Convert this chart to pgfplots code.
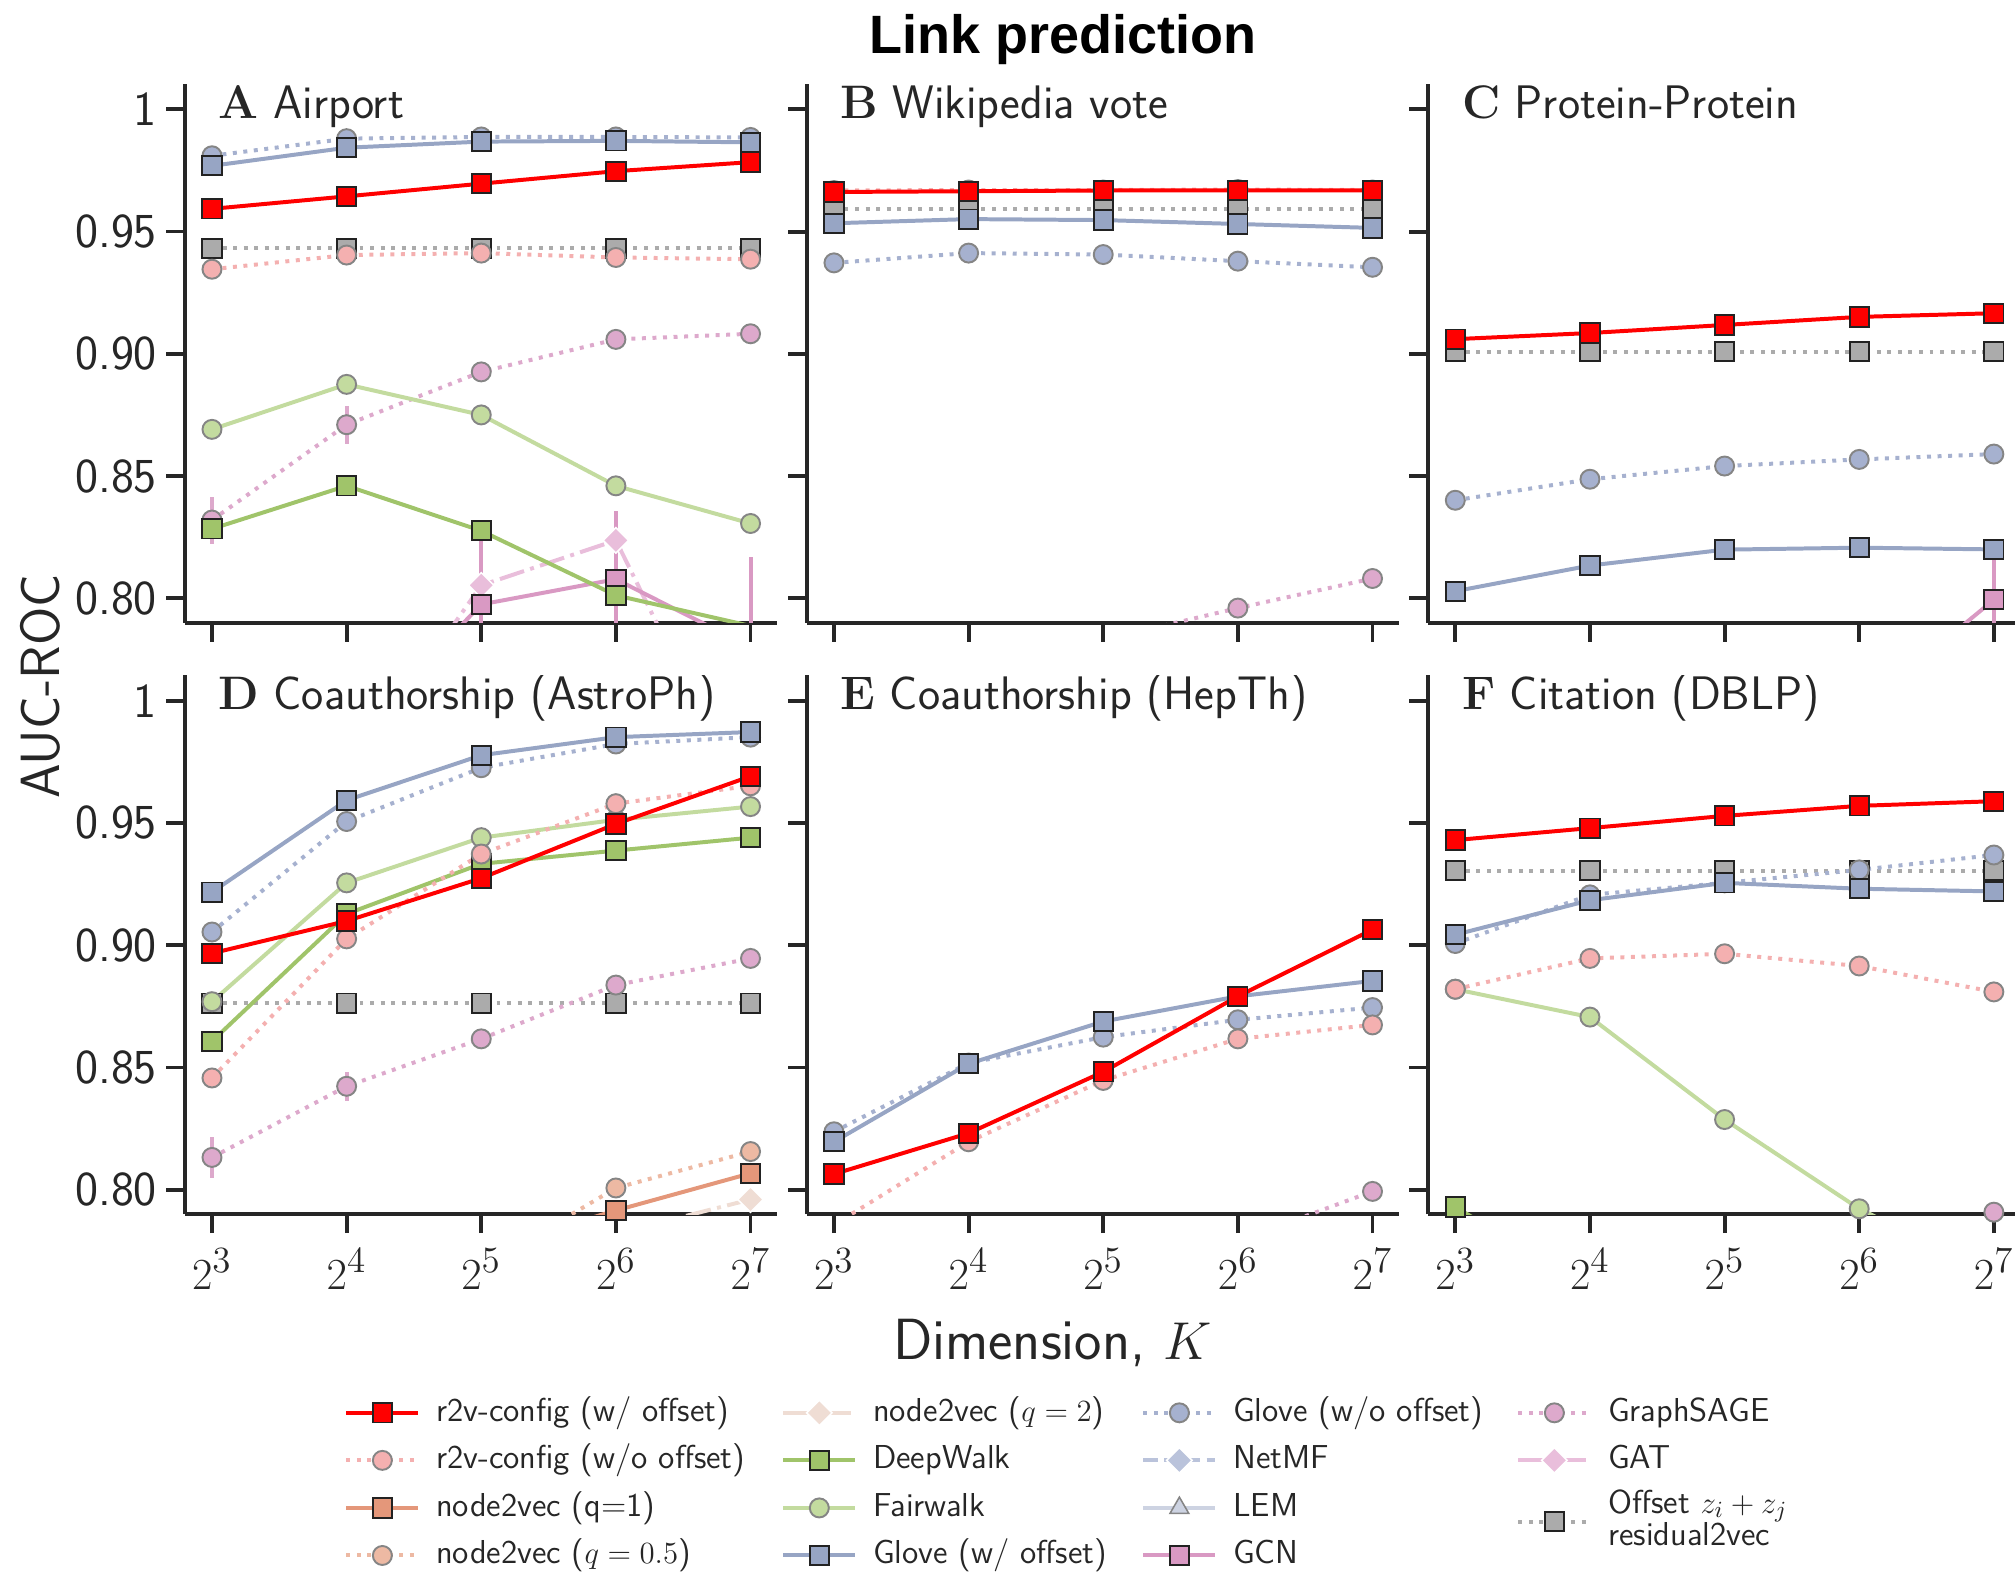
\documentclass[border=0pt]{standalone}
\usepackage{fontspec}
\usepackage{pgfplots}
\pgfplotsset{compat=1.18}
\newfontfamily\titlefont{Liberation Sans}
\definecolor{axcol}{HTML}{262626}
\definecolor{cR}{HTML}{FF0000}
\definecolor{cRw}{HTML}{F4B0B0}
\definecolor{cNa}{HTML}{E4977A}
\definecolor{cNb}{HTML}{EDB9A3}
\definecolor{cNc}{HTML}{EFDDD4}
\definecolor{cDW}{HTML}{A0C46A}
\definecolor{cFW}{HTML}{C3DB9F}
\definecolor{cGl}{HTML}{97A5C4}
\definecolor{cGw}{HTML}{A6B1CF}
\definecolor{cNM}{HTML}{BAC3DB}
\definecolor{cLE}{HTML}{CDD3E2}
\definecolor{cGC}{HTML}{D999C3}
\definecolor{cGS}{HTML}{DDA9CC}
\definecolor{cGA}{HTML}{E9BEDB}
\definecolor{cOf}{HTML}{ABABAB}
\definecolor{edgeK}{HTML}{222222}
\definecolor{edgeG}{HTML}{858585}
\tikzset{
  sqm/.style={mark=square*, mark size=3.75pt, mark options={solid, draw=edgeK, fill=#1, line width=0.75pt}},
  cim/.style={mark=*, mark size=3.7pt, mark options={solid, draw=edgeG, fill=#1, line width=0.75pt}},
  dim/.style={mark=square*, mark size=3.5pt, mark options={solid, rotate=45, draw=white, fill=#1, line width=0.6pt}},
  trm/.style={mark=triangle*, mark size=4.2pt, mark options={solid, draw=edgeG, fill=#1, line width=0.6pt}},
  base/.style={color=#1, line width=1.55pt},
  dotl/.style={dash pattern=on 1.55pt off 2.55pt},
  dashl/.style={dash pattern=on 5.7pt off 2.5pt},
  ddl/.style={dash pattern=on 9.9pt off 2.5pt on 1.55pt off 2.5pt},
  sR/.style={base=cR, sqm=cR},
  sRw/.style={base=cRw, dotl, cim=cRw},
  sN1/.style={base=cNa, sqm=cNa},
  sN05/.style={base=cNb, dotl, cim=cNb},
  sN2/.style={base=cNc, ddl, dim=cNc},
  sDW/.style={base=cDW, sqm=cDW},
  sFW/.style={base=cFW, cim=cFW},
  sGl/.style={base=cGl, sqm=cGl},
  sGw/.style={base=cGw, dotl, cim=cGw},
  sNM/.style={base=cNM, dashl, dim=cNM},
  sLE/.style={base=cLE, trm=cLE},
  sGC/.style={base=cGC, sqm=cGC},
  sGS/.style={base=cGS, dotl, cim=cGS},
  sGA/.style={base=cGA, ddl, dim=cGA},
  sOf/.style={base=cOf, dotl, sqm=cOf},
}
\pgfplotsset{
  legend image code/.code={\draw[mark repeat=2, mark phase=2, #1] plot coordinates {(0pt,0pt) (14pt,0pt) (28pt,0pt)};},
  errb/.style={error bars/.cd, y dir=both, y explicit, error mark=none, error bar style={solid, line width=1.55pt, color=#1}},
  panel/.style={
    scale only axis, width=230.5pt, height=209.75pt,
    xmin=2.8, xmax=7.2, ymin=0.79, ymax=1.0105,
    axis lines*=left, tick align=outside,
    axis line style={line width=1.5pt, color=axcol},
    every tick/.style={line width=1.5pt, color=axcol},
    major tick length=7.4pt,
    xtick={3,4,5,6,7}, xticklabels={$2^{3}$,$2^{4}$,$2^{5}$,$2^{6}$,$2^{7}$},
    ytick={0.8,0.85,0.9,0.95,1}, yticklabels={},
    tick label style={font=\fontsize{19}{21}\selectfont, color=axcol},
    xticklabel style={inner sep=2pt, yshift=-4pt},
    yticklabel style={font=\sffamily\fontsize{19}{21}\selectfont},
    anchor=south west, clip=true,
  },
  toprow/.style={xticklabels={}},
  leftpanel/.style={yticklabels={0.80,0.85,0.90,0.95,1}},
  rightpanel/.style={xmax=7.16, width=228.4pt},
  legax/.style={hide axis, scale only axis, width=1pt, height=1pt, xmin=0, xmax=1, ymin=0, ymax=1,
    anchor=north west,
    legend style={at={(0,1)}, anchor=north west, draw=none, fill=none, inner sep=0pt, row sep=6pt,
      font=\sffamily\fontsize{12.9}{15}\selectfont, text=axcol,
      nodes={inner sep=0pt, text height=9.5pt, text depth=3pt},
      /tikz/every odd column/.append style={column sep=6.2pt}},
    legend cell align=left},
}
\newcommand{\ptitle}[2]{\node[anchor=base west, inner sep=0pt, text=axcol, font=\fontsize{18.3}{20}\selectfont] at ([xshift=13pt,yshift=-13.5pt]rel axis cs:0,1) {{\rmfamily\bfseries #1}\ \sffamily #2};}
\begin{document}
\begin{tikzpicture}
\useasboundingbox (0,0) rectangle (784pt,611.5pt);
% ---------------- A Airport
\begin{axis}[panel, toprow, leftpanel, at={(72pt,369.2pt)}]
\addplot[sOf] coordinates {(3,0.9431)(4,0.9431)(5,0.9431)(6,0.9431)(7,0.9431)};
\addplot[sGS, errb=cGS] coordinates {(3,0.832) +- (0,0.0096) (4,0.871) +- (0,0.0077) (5,0.8926) +- (0,0) (6,0.9059) +- (0,0) (7,0.9082) +- (0,0)};
\addplot[sGA, errb=cGA] coordinates {(4,0.727) +- (0,0) (5,0.8053) +- (0,0) (6,0.8237) +- (0,0.011) (7,0.712) +- (0,0)};
\addplot[sGC, errb=cGC] coordinates {(4,0.74) +- (0,0) (5,0.7975) +- (0,0.026) (6,0.8078) +- (0,0.028) (7,0.78) +- (0,0.037)};
\addplot[sDW] coordinates {(3,0.8284)(4,0.846)(5,0.8276)(6,0.8012)(7,0.7887)};
\addplot[sFW] coordinates {(3,0.8691)(4,0.8875)(5,0.875)(6,0.846)(7,0.8306)};
\addplot[sGw] coordinates {(3,0.981)(4,0.988)(5,0.9887)(6,0.9887)(7,0.9885)};
\addplot[sGl] coordinates {(3,0.9769)(4,0.9843)(5,0.9868)(6,0.9871)(7,0.9865)};
\addplot[sRw] coordinates {(3,0.9346)(4,0.9404)(5,0.9412)(6,0.9394)(7,0.9387)};
\addplot[sR] coordinates {(3,0.9593)(4,0.9644)(5,0.9696)(6,0.9747)(7,0.9784)};
\ptitle{A}{Airport}
\end{axis}
% ---------------- B Wikipedia vote
\begin{axis}[panel, toprow, at={(314pt,369.2pt)}]
\addplot[sOf] coordinates {(3,0.9593)(4,0.9593)(5,0.9593)(6,0.9593)(7,0.9593)};
\addplot[sGS] coordinates {(4,0.77)(5,0.783)(6,0.796)(7,0.8081)};
\addplot[sGw] coordinates {(3,0.9372)(4,0.9412)(5,0.9406)(6,0.9379)(7,0.9354)};
\addplot[sGl] coordinates {(3,0.9534)(4,0.9551)(5,0.9547)(6,0.9531)(7,0.9515)};
\addplot[sRw] coordinates {(3,0.9668)(4,0.967)(5,0.967)(6,0.9672)(7,0.967)};
\addplot[sR] coordinates {(3,0.9662)(4,0.9665)(5,0.9668)(6,0.9669)(7,0.9668)};
\ptitle{B}{Wikipedia vote}
\end{axis}
% ---------------- C Protein-Protein
\begin{axis}[panel, toprow, rightpanel, at={(555.75pt,369.2pt)}]
\addplot[sOf] coordinates {(3,0.9009)(4,0.9009)(5,0.9009)(6,0.9009)(7,0.9009)};
\addplot[sGC, errb=cGC] coordinates {(6,0.754) +- (0,0) (7,0.7994) +- (0,0.017)};
\addplot[sGw] coordinates {(3,0.8401)(4,0.8487)(5,0.8541)(6,0.8568)(7,0.859)};
\addplot[sGl] coordinates {(3,0.8029)(4,0.8134)(5,0.8199)(6,0.8207)(7,0.82)};
\addplot[sR] coordinates {(3,0.906)(4,0.9085)(5,0.9118)(6,0.9151)(7,0.9166)};
\ptitle{C}{Protein-Protein}
\end{axis}
% ---------------- D AstroPh
\begin{axis}[panel, leftpanel, at={(72pt,139.1pt)}]
\addplot[sOf] coordinates {(3,0.8763)(4,0.8763)(5,0.8763)(6,0.8763)(7,0.8763)};
\addplot[sGS, errb=cGS] coordinates {(3,0.8132) +- (0,0.0085) (4,0.8423) +- (0,0.006) (5,0.8617) +- (0,0) (6,0.8837) +- (0,0) (7,0.8946) +- (0,0)};
\addplot[sN2] coordinates {(5,0.768)(6,0.782)(7,0.796)};
\addplot[sN05] coordinates {(5,0.768)(6,0.8007)(7,0.8156)};
\addplot[sN1] coordinates {(5,0.775)(6,0.7915)(7,0.8067)};
\addplot[sDW] coordinates {(3,0.8607)(4,0.9128)(5,0.9333)(6,0.9387)(7,0.944)};
\addplot[sFW] coordinates {(3,0.8769)(4,0.9255)(5,0.944)(6,0.9513)(7,0.9567)};
\addplot[sGw] coordinates {(3,0.9054)(4,0.9506)(5,0.9726)(6,0.9823)(7,0.9851)};
\addplot[sGl] coordinates {(3,0.9217)(4,0.9593)(5,0.9777)(6,0.9851)(7,0.9872)};
\addplot[sRw] coordinates {(3,0.8457)(4,0.9026)(5,0.9373)(6,0.9579)(7,0.9652)};
\addplot[sR] coordinates {(3,0.8967)(4,0.9099)(5,0.9274)(6,0.9496)(7,0.9691)};
\ptitle{D}{Coauthorship (AstroPh)}
\end{axis}
% ---------------- E HepTh
\begin{axis}[panel, at={(314pt,139.1pt)}]
\addplot[sGS] coordinates {(5,0.765)(6,0.779)(7,0.7993)};
\addplot[sGw] coordinates {(3,0.8237)(4,0.8518)(5,0.8624)(6,0.8695)(7,0.8745)};
\addplot[sGl] coordinates {(3,0.8196)(4,0.8515)(5,0.8688)(6,0.8791)(7,0.8854)};
\addplot[sRw] coordinates {(3,0.7856)(4,0.8196)(5,0.8447)(6,0.8617)(7,0.8674)};
\addplot[sR] coordinates {(3,0.8064)(4,0.8231)(5,0.8482)(6,0.8791)(7,0.9064)};
\ptitle{E}{Coauthorship (HepTh)}
\end{axis}
% ---------------- F DBLP
\begin{axis}[panel, rightpanel, at={(555.75pt,139.1pt)}]
\addplot[sOf] coordinates {(3,0.9305)(4,0.9305)(5,0.9305)(6,0.9305)(7,0.9305)};
\addplot[sGS] coordinates {(6,0.77)(7,0.7908)};
\addplot[sDW] coordinates {(3,0.7929)(4,0.76)};
\addplot[sFW] coordinates {(3,0.882)(4,0.8706)(5,0.8287)(6,0.7922)(7,0.765)};
\addplot[sRw] coordinates {(3,0.882)(4,0.8946)(5,0.8965)(6,0.8915)(7,0.8809)};
\addplot[sGw] coordinates {(3,0.9007)(4,0.9206)(5,0.9255)(6,0.9308)(7,0.9369)};
\addplot[sGl] coordinates {(3,0.9043)(4,0.9184)(5,0.9255)(6,0.9231)(7,0.922)};
\addplot[sR] coordinates {(3,0.943)(4,0.9479)(5,0.9529)(6,0.957)(7,0.9589)};
\ptitle{F}{Citation (DBLP)}
\end{axis}
% ---------------- legend
\begin{axis}[legax, at={(133.8pt,68.25pt)}]
\addlegendimage{sR}\addlegendentry{r2v-config (w/ offset)}
\addlegendimage{sRw}\addlegendentry{r2v-config (w/o offset)}
\addlegendimage{sN1}\addlegendentry{node2vec (q=1)}
\addlegendimage{sN05}\addlegendentry{node2vec ($q=0.5$)}
\end{axis}
\begin{axis}[legax, at={(303.8pt,68.25pt)}]
\addlegendimage{sN2}\addlegendentry{node2vec ($q=2$)}
\addlegendimage{sDW}\addlegendentry{DeepWalk}
\addlegendimage{sFW}\addlegendentry{Fairwalk}
\addlegendimage{sGl}\addlegendentry{Glove (w/ offset)}
\end{axis}
\begin{axis}[legax, at={(443.9pt,68.25pt)}]
\addlegendimage{sGw}\addlegendentry{Glove (w/o offset)}
\addlegendimage{sNM}\addlegendentry{NetMF}
\addlegendimage{sLE}\addlegendentry{LEM}
\addlegendimage{sGC}\addlegendentry{GCN}
\end{axis}
\begin{axis}[legax, at={(589.8pt,68.25pt)}]
\addlegendimage{sGS}\addlegendentry{GraphSAGE}
\addlegendimage{sGA}\addlegendentry{GAT}
\end{axis}
\begin{axis}[legax, anchor=west, at={(589.8pt,19.5pt)},
  legend style={at={(0,0.5)}, anchor=west, nodes={inner sep=0pt, text height=, text depth=}}]
\addlegendimage{sOf}\addlegendentry{\begin{tabular}{@{}l@{}}Offset $z_i+z_j$\\[-2.5pt]residual2vec\end{tabular}}
\end{axis}
% ---------------- titles
\node[anchor=base, text=black, font=\titlefont\bfseries\fontsize{21}{24}\selectfont] at (413.75pt,590.5pt) {Link prediction};
\node[rotate=90, text=axcol, font=\sffamily\fontsize{21.5}{24}\selectfont] at (15.6pt,344.5pt) {AUC-ROC};
\node[anchor=base, text=axcol, font=\sffamily\fontsize{22.6}{26}\selectfont] at (409.5pt,82.5pt) {Dimension, $K$};
\end{tikzpicture}
\end{document}
